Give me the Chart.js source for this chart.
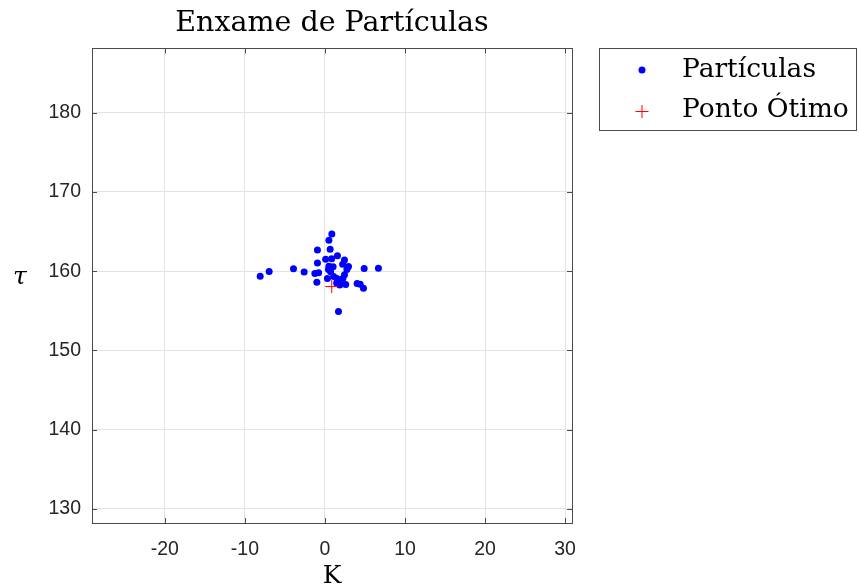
<!DOCTYPE html>
<html lang="pt">
<head>
    <meta charset="UTF-8">
    <script src="https://cdn.jsdelivr.net/npm/chart.js"></script>
    <title>Enxame de Partículas</title>
    <style>
        body{margin:0; background:#fff;}
        #wrap{width:859px; height:588px;}
    </style>
</head>
<body>
<div id="wrap">
    <canvas id="myChart" width="859" height="588"></canvas>
</div>
<script>
    // valores
    const particulasK = [0.86, 0.49, 0.65, -0.94, 1.56, 0.09, 0.84, 2.44, -0.94, 0.49,
                         1.02, 2.21, 2.94, 2.74, -2.60, -1.26, -0.79, 0.44, 0.71, 4.90,
                         6.68, -3.93, -6.97, -8.09, 2.44, 0.31, 1.09, 1.49, 1.90, 2.24,
                         1.84, 2.59, 4.02, 4.40, 4.81, -1.01, 1.69, 1.46];
    const particulasTau = [164.68, 163.89, 162.75, 162.66, 161.94, 161.49, 161.55, 161.40, 161.02, 160.61,
                           160.56, 160.86, 160.58, 160.20, 159.89, 159.70, 159.80, 160.20, 159.92, 160.33,
                           160.35, 160.30, 159.97, 159.34, 159.55, 159.07, 159.32, 159.07, 158.81, 159.07,
                           158.24, 158.31, 158.43, 158.33, 157.83, 158.59, 154.92, 158.50];
    const otimoK = [0.85];
    const otimoTau = [158.05];

    const xTicks = [-20, -10, 0, 10, 20, 30];
    const yTicks = [130, 140, 150, 160, 170, 180];
    const xLim = [-29.1, 30.86];
    const yLim = [128.2, 188.13];

    const legendItems = ["Partículas", "Ponto Ótimo"];

    const serif = "'DejaVu Serif', 'Liberation Serif', serif";
    const sans = "'Liberation Sans', Arial, sans-serif";
    const eixoCor = "#4a4a4a";

    // caixa, ticks internos, rótulo tau e legenda
    const extras = {
        id: 'extras',
        afterDraw(chart){
            const ctx = chart.ctx;
            const a = chart.chartArea;
            const xs = chart.scales.x, ys = chart.scales.y;
            ctx.save();
            ctx.strokeStyle = eixoCor;
            ctx.lineWidth = 1;
            ctx.beginPath();
            xTicks.forEach(v => {
                const px = Math.round(xs.getPixelForValue(v)) + 0.5;
                ctx.moveTo(px, a.bottom); ctx.lineTo(px, a.bottom - 5);
                ctx.moveTo(px, a.top); ctx.lineTo(px, a.top + 5);
            });
            yTicks.forEach(v => {
                const py = Math.round(ys.getPixelForValue(v)) + 0.5;
                ctx.moveTo(a.left, py); ctx.lineTo(a.left + 5, py);
                ctx.moveTo(a.right, py); ctx.lineTo(a.right - 5, py);
            });
            ctx.stroke();
            ctx.strokeRect(Math.round(a.left) + 0.5, Math.round(a.top) + 0.5,
                           Math.round(a.right - a.left), Math.round(a.bottom - a.top));

            // rótulo do eixo y (horizontal)
            ctx.fillStyle = "#000";
            ctx.font = "italic 25px " + serif;
            ctx.textAlign = "center";
            ctx.textBaseline = "middle";
            ctx.fillText("τ", 20, 277);

            // legenda
            const lx = 599.5, ly = 48.5, lw = 257, lh = 82;
            ctx.fillStyle = "#fff";
            ctx.fillRect(lx, ly, lw, lh);
            ctx.strokeStyle = eixoCor;
            ctx.strokeRect(lx, ly, lw, lh);
            ctx.fillStyle = "#0000ff";
            ctx.beginPath();
            ctx.arc(642, 70, 3.5, 0, Math.PI * 2);
            ctx.fill();
            ctx.strokeStyle = "#ff0000";
            ctx.beginPath();
            ctx.moveTo(635.5, 111.5); ctx.lineTo(648.5, 111.5);
            ctx.moveTo(642, 105); ctx.lineTo(642, 118);
            ctx.stroke();
            ctx.fillStyle = "#000";
            ctx.font = "26.5px " + serif;
            ctx.textAlign = "left";
            ctx.textBaseline = "alphabetic";
            ctx.fillText(legendItems[0], 682, 77);
            ctx.fillText(legendItems[1], 682, 117);
            ctx.restore();
        }
    };

    const ctx = document.getElementById('myChart');
    new Chart(ctx, {
        type: 'scatter',
        data: {
            datasets: [{
                label: legendItems[1],
                data: otimoK.map((k, i) => ({x: k, y: otimoTau[i]})),
                pointStyle: 'cross',
                pointRadius: 6.5,
                borderColor: '#ff0000',
                backgroundColor: '#ff0000',
                pointBorderWidth: 1,
                order: 0
            }, {
                label: legendItems[0],
                data: particulasK.map((k, i) => ({x: k, y: particulasTau[i]})),
                pointStyle: 'circle',
                pointRadius: 3.5,
                borderWidth: 0,
                backgroundColor: '#0000ff',
                borderColor: '#0000ff',
                order: 1
            }]
        },
        options: {
            responsive: false,
            animation: false,
            layout: {padding: {left: 0, right: 287, top: 0, bottom: 0}},
            plugins: {
                legend: {display: false},
                tooltip: {enabled: false},
                title: {
                    display: true,
                    text: 'Enxame de Partículas',
                    fullSize: false,
                    color: '#000',
                    font: {family: serif, size: 28.5, weight: 'normal', lineHeight: 1.1},
                    padding: {top: 8, bottom: 9}
                }
            },
            scales: {
                x: {
                    type: 'linear',
                    min: xLim[0], max: xLim[1],
                    afterBuildTicks: s => { s.ticks = xTicks.map(v => ({value: v})); },
                    afterFit: s => { s.height = 65; },
                    grid: {color: '#e3e3e3', drawTicks: false},
                    border: {display: false},
                    ticks: {color: '#262626', padding: 15, font: {family: sans, size: 19.5}},
                    title: {display: true, text: 'K', color: '#000', padding: {top: 0, bottom: 0},
                            font: {family: serif, size: 25, lineHeight: 0.9}}
                },
                y: {
                    type: 'linear',
                    min: yLim[0], max: yLim[1],
                    afterBuildTicks: s => { s.ticks = yTicks.map(v => ({value: v})); },
                    afterFit: s => { s.width = 92; },
                    grid: {color: '#e3e3e3', drawTicks: false},
                    border: {display: false},
                    ticks: {color: '#262626', padding: 11, font: {family: sans, size: 19.5}}
                }
            }
        },
        plugins: [extras]
    });
</script>
</body>
</html>
